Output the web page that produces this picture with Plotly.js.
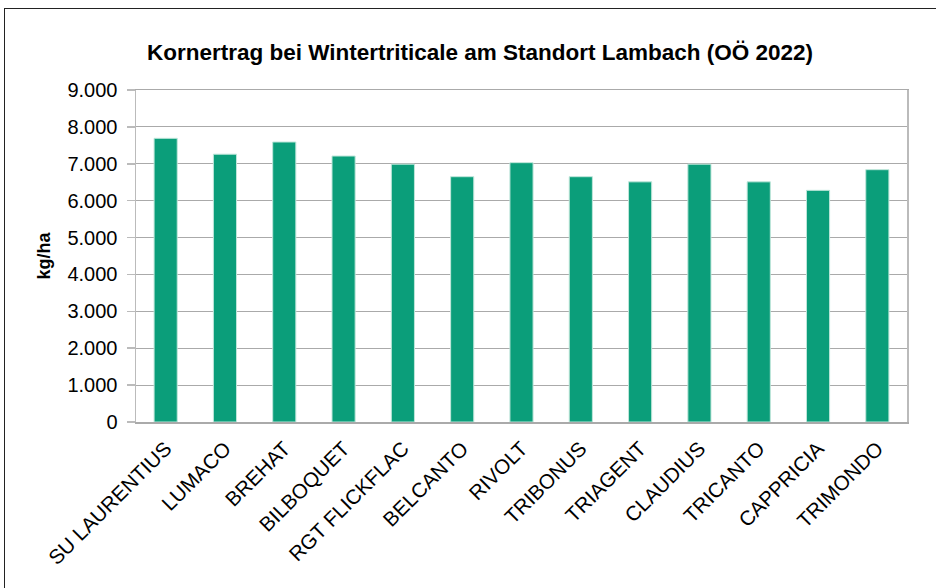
<!DOCTYPE html>
<html>
<head>
<meta charset="utf-8">
<script src="https://cdn.plot.ly/plotly-3.0.1.min.js"></script>
<style>
html,body{margin:0;padding:0;background:#fff;}
#wrap{position:relative;width:936px;height:588px;overflow:hidden;}
#chart{width:936px;height:588px;}
#frame{position:absolute;left:4px;top:8px;width:960px;height:620px;border:1.5px solid #222;pointer-events:none;}
</style>
</head>
<body>
<div id="wrap"><div id="chart"></div><div id="frame"></div></div>
<script>
const categories = ["SU LAURENTIUS","LUMACO","BREHAT","BILBOQUET","RGT FLICKFLAC","BELCANTO","RIVOLT","TRIBONUS","TRIAGENT","CLAUDIUS","TRICANTO","CAPPRICIA","TRIMONDO"];
const yieldKgHa = [7690,7260,7590,7210,6990,6650,7030,6650,6510,6990,6510,6280,6840];
const yTicks = [0,1000,2000,3000,4000,5000,6000,7000,8000,9000];

const font = "Liberation Sans, Arial, Helvetica, sans-serif";
const data = [{
  type: "bar",
  x: categories,
  y: yieldKgHa,
  marker: {color: "#0b9e7a", line: {color: "#bfe6da", width: 1}},
  hoverinfo: "x+y"
}];
const layout = {
  width: 936, height: 588,
  margin: {l: 136, r: 29, t: 90, b: 166},
  paper_bgcolor: "#fff", plot_bgcolor: "#fff",
  separators: ",.",
  showlegend: false,
  bargap: 0.61,
  font: {family: font, color: "#000"},
  title: {text: "<b>Kornertrag bei Wintertriticale am Standort Lambach (OÖ 2022)</b>",
          font: {size: 22.5, family: font, color: "#000"}, x: 480/936, xanchor: "center", y: 1-52/588, yanchor: "middle"},
  xaxis: {
    tickangle: -45, tickfont: {size: 20.5, family: font, color: "#000"},
    showline: true, linecolor: "#aaa", linewidth: 1.5, mirror: true,
    ticks: "", showgrid: false, automargin: false, ticklabelstandoff: 5
  },
  yaxis: {
    range: [0, 9000], tickvals: yTicks, tickformat: ",.0f",
    tickfont: {size: 20, family: font, color: "#000"},
    showline: true, linecolor: "#bbb", linewidth: 1.5, mirror: true,
    ticks: "outside", ticklen: 8, tickcolor: "#bbb", tickwidth: 1.5,
    ticklabelstandoff: 5,
    showgrid: true, gridcolor: "#aaa", gridwidth: 1.2,
    zeroline: false, automargin: false,
    title: {text: "<b>kg/ha</b>", font: {size: 18, family: font, color: "#000"}, standoff: 12}
  }
};
Plotly.newPlot("chart", data, layout, {displayModeBar: false, staticPlot: true});
</script>
</body>
</html>
